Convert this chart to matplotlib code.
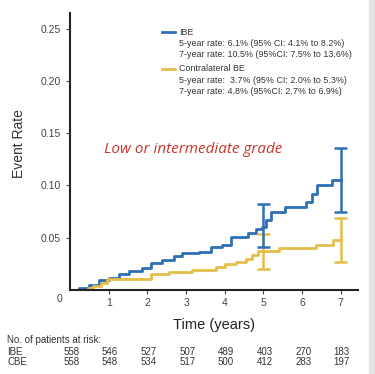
import numpy as np
import matplotlib
matplotlib.use('Agg')
import matplotlib.pyplot as plt
from matplotlib.patches import Rectangle

plt.rcParams['font.family'] = ['Liberation Sans', 'DejaVu Sans']

# Step curves (time in years, cumulative event rate)
ibe_t = [0, 0.23, 0.5, 0.75, 1.0, 1.27, 1.52, 1.86, 2.1, 2.38, 2.68, 2.9, 3.33,
         3.64, 3.93, 4.15, 4.6, 4.8, 4.96, 5.06, 5.2, 5.57, 6.1, 6.25, 6.38, 6.78, 7.0]
ibe_r = [0, 0.002, 0.005, 0.009, 0.011, 0.015, 0.018, 0.021, 0.026, 0.029, 0.032,
         0.035, 0.036, 0.041, 0.043, 0.051, 0.054, 0.058, 0.060, 0.067, 0.075,
         0.079, 0.084, 0.092, 0.100, 0.105, 0.105]

cbe_t = [0, 0.45, 0.6, 0.8, 0.95, 2.1, 2.55, 3.15, 3.77, 4.0, 4.3, 4.55, 4.7,
         4.85, 5.4, 6.35, 6.8, 7.0]
cbe_r = [0, 0.002, 0.004, 0.007, 0.010, 0.015, 0.017, 0.019, 0.022, 0.025, 0.027,
         0.030, 0.033, 0.037, 0.040, 0.043, 0.048, 0.048]

# 95% CI at 5 and 7 years
ci_t = [5, 7]
ibe_lo = [0.041, 0.075]
ibe_hi = [0.082, 0.136]
cbe_lo = [0.020, 0.027]
cbe_hi = [0.053, 0.069]

years = [0, 1, 2, 3, 4, 5, 6, 7]
risk_ibe = [558, 546, 527, 507, 489, 403, 270, 183]
risk_cbe = [558, 548, 534, 517, 500, 412, 283, 197]

blue = '#2f6fb5'
gold = '#e3bf4a'
txt = '#333333'

fig = plt.figure(figsize=(3.75, 3.74), dpi=100)
fig.patch.set_facecolor('white')
fig.patches.append(Rectangle((0.985, 0), 0.015, 1, transform=fig.transFigure,
                             color='#e4e4e4', zorder=0))

ax = fig.add_axes([0.187, 0.225, 0.768, 0.74])

ax.step(ibe_t, ibe_r, where='post', color=blue, lw=2)
ax.step(cbe_t, cbe_r, where='post', color=gold, lw=2)

for t, lo, hi in zip(ci_t, cbe_lo, cbe_hi):
    ax.vlines(t, lo, hi, color=gold, lw=1.8)
    ax.hlines([lo, hi], t - 0.17, t + 0.17, color=gold, lw=1.8)
for t, lo, hi in zip(ci_t, ibe_lo, ibe_hi):
    ax.vlines(t, lo, hi, color=blue, lw=1.8)
    ax.hlines([lo, hi], t - 0.17, t + 0.17, color=blue, lw=1.8)

ax.set_xlim(0, 7.45)
ax.set_ylim(0, 0.265)
ax.set_yticks([0.05, 0.10, 0.15, 0.20, 0.25])
ax.set_yticklabels(['0.05', '0.10', '0.15', '0.20', '0.25'])
ax.set_xticks(years[1:])
ax.tick_params(axis='both', labelsize=7.5, colors='#444444', length=3, width=0.8)
ax.tick_params(axis='x', pad=3)
ax.text(-0.28, -0.004, '0', fontsize=7.5, color='#444444', ha='center', va='top')

for s in ['top', 'right']:
    ax.spines[s].set_visible(False)
for s in ['left', 'bottom']:
    ax.spines[s].set_color('#222222')
    ax.spines[s].set_linewidth(1.5)

ax.set_ylabel('Event Rate', fontsize=10, color=txt)
ax.yaxis.set_label_coords(-0.153, 0.53)
ax.set_xlabel('Time (years)', fontsize=10.5, color='#222222', labelpad=7)

ax.text(0.88, 0.134, 'Low or intermediate grade', fontsize=11, color='#c8352b',
        style='italic', family='Open Sans', va='center')

# legend block
legend_lines = [
    (blue, 'IBE', ['5-year rate: 6.1% (95% CI: 4.1% to 8.2%)',
                   '7-year rate: 10.5% (95%CI: 7.5% to 13.6%)']),
    (gold, 'Contralateral BE', ['5-year rate:  3.7% (95% CI: 2.0% to 5.3%)',
                                '7-year rate: 4.8% (95%CI: 2.7% to 6.9%)']),
]
y0 = 0.2465
dy = 0.0108
for color, name, rows in legend_lines:
    ax.plot([2.37, 2.72], [y0, y0], color=color, lw=2, clip_on=False)
    ax.text(2.82, y0, name, fontsize=6.4, color=txt, va='center')
    for i, r in enumerate(rows):
        ax.text(2.82, y0 - dy * (i + 1), r, fontsize=6.4, color=txt, va='center')
    y0 -= 3 * dy + 0.0025

# risk table
fig.text(0.019, 1 - 340 / 374, 'No. of patients at risk:', fontsize=7,
         color=txt, va='center')
fig.text(0.019, 1 - 352 / 374, 'IBE', fontsize=7, color=txt, va='center')
fig.text(0.019, 1 - 362 / 374, 'CBE', fontsize=7, color=txt, va='center')
for t, a, b in zip(years, risk_ibe, risk_cbe):
    xf = fig.transFigure.inverted().transform(ax.transData.transform((t, 0)))[0]
    fig.text(xf + 0.003, 1 - 352 / 374, str(a), fontsize=7, color=txt,
             ha='center', va='center')
    fig.text(xf + 0.003, 1 - 362 / 374, str(b), fontsize=7, color=txt,
             ha='center', va='center')

fig.savefig('out.png', dpi=100)
